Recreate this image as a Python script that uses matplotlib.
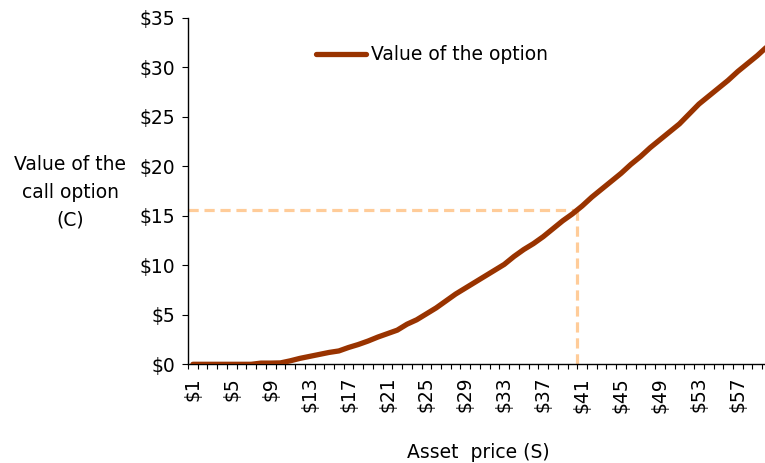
import matplotlib
matplotlib.use('Agg')
import matplotlib.pyplot as plt
import numpy as np

# -------------------------------------------------------------------------------------------------------
# data
asset_price = list(range(1, 61))
option_value = [0.0, 0.0, 0.0, 0.0, 0.0, 0.0, 0.0, 0.12, 0.12, 0.14,
                0.35, 0.6, 0.8, 1.0, 1.2, 1.35, 1.7, 2.0, 2.35, 2.75,
                3.1, 3.45, 4.05, 4.5, 5.1, 5.7, 6.4, 7.1, 7.7, 8.3,
                8.9, 9.5, 10.1, 10.9, 11.6, 12.2, 12.9, 13.7, 14.5, 15.2,
                16.0, 16.9, 17.7, 18.5, 19.3, 20.2, 21.0, 21.9, 22.7, 23.5,
                24.3, 25.3, 26.3, 27.1, 27.9, 28.7, 29.6, 30.4, 31.2, 32.1]
xtick_prices = list(range(1, 61, 4))
xtick_labels = ['$%d' % p for p in xtick_prices]
ytick_values = list(range(0, 36, 5))
ytick_labels = ['$%d' % v for v in ytick_values]

marker_s = 40.45     # where the dashed guide hits the axis
marker_c = 15.55

line_color = '#993300'
guide_color = '#FFCC99'
font_size = 13.5


# -------------------------------------------------------------------------------------------------------
def main():
    plt.rcParams['font.family'] = ['DejaVu Sans']

    fig = plt.figure(figsize=(7.65, 4.63), dpi=100)
    # axes box placed in pixels: left 188, right 765, y0 at 364, y35 at 18
    ax = fig.add_axes([188 / 765, (463 - 364.3) / 463, 1 - 188 / 765, (364.3 - 18) / 463])

    x = np.array(asset_price)
    ax.plot(x, option_value, color=line_color, lw=3.8, solid_capstyle='round',
            label='Value of the option', zorder=3)

    # dashed guides
    ax.plot([0.5, marker_s], [marker_c, marker_c], color=guide_color, lw=2.3,
            dashes=(3.2, 1.8), zorder=2, clip_on=False)
    ax.plot([marker_s, marker_s], [0, marker_c], color=guide_color, lw=2.3,
            dashes=(3.2, 1.8), zorder=2)

    ax.set_xlim(0.5, 59.79)
    ax.set_ylim(0, 35)

    ax.spines['top'].set_visible(False)
    ax.spines['right'].set_visible(False)
    ax.spines['left'].set_linewidth(1.0)
    ax.spines['bottom'].set_linewidth(1.0)

    # x axis: labels on category centres, tick marks between categories
    ax.set_xticks(xtick_prices)
    ax.set_xticklabels(xtick_labels, rotation=90, fontsize=font_size)
    ax.set_xticks(np.arange(0.5, 60.5, 1.0), minor=True)
    ax.tick_params(axis='x', which='major', length=0, pad=9)
    ax.tick_params(axis='x', which='minor', length=3.5, width=0.8, direction='out')

    ax.set_yticks(ytick_values)
    ax.set_yticklabels(ytick_labels, fontsize=font_size)
    ax.tick_params(axis='y', which='major', length=4.5, width=0.8, pad=5)

    fig.text(70 / 765, 1 - 192 / 463, 'Value of the\ncall option\n(C)', ha='center', va='center',
             fontsize=font_size, linespacing=1.6)
    fig.text(478 / 765, 1 - 452 / 463, 'Asset  price (S)', ha='center', va='center',
             fontsize=font_size)

    ax.legend(loc='center left', bbox_to_anchor=(308 / 765, 1 - 55 / 463),
              bbox_transform=fig.transFigure, frameon=False, fontsize=font_size,
              handlelength=2.7, handletextpad=0.25, borderaxespad=0)

    fig.savefig('out.png', dpi=100)


if __name__ == '__main__':
    main()
